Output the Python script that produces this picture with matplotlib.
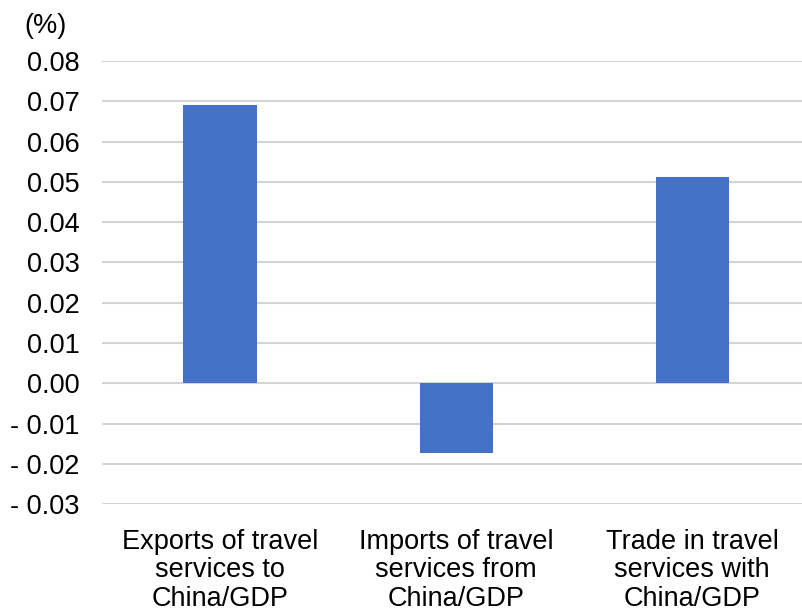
import numpy as np
import matplotlib.pyplot as plt

plt.rcParams['font.family'] = ['Liberation Sans', 'DejaVu Sans']

categories = ['Exports of travel\nservices to\nChina/GDP',
              'Imports of travel\nservices from\nChina/GDP',
              'Trade in travel\nservices with\nChina/GDP']
values = [0.069, -0.0174, 0.0511]
yticks = [-0.03, -0.02, -0.01, 0.00, 0.01, 0.02, 0.03, 0.04, 0.05, 0.06, 0.07, 0.08]


def fmt(v):
    if v < 0:
        return '- {:.2f}'.format(abs(v))
    return '{:.2f}'.format(v)


fig = plt.figure(figsize=(8.03, 6.11), dpi=100)
ax = fig.add_axes([0.127, 0.175, 0.882, 0.725])

x = np.arange(len(categories))
ax.bar(x, values, width=0.31, color='#4472C4', zorder=3)

ax.set_xlim(-0.5, 2.5)
ax.set_ylim(-0.03, 0.08)
ax.set_yticks(yticks)
ax.set_yticklabels([fmt(v) for v in yticks])
ax.set_xticks(x)
ax.set_xticklabels(categories, linespacing=1.12)
ax.tick_params(axis='y', length=0, pad=16, labelsize=19.5)
ax.tick_params(axis='x', length=0, pad=18, labelsize=19.5)
ax.grid(axis='y', color='#d4d4d4', linewidth=1.5, zorder=0)
for s in ax.spines.values():
    s.set_visible(False)

fig.text(0.03, 0.958, '(%)', fontsize=19.5, va='center', ha='left')

fig.savefig('out.png', dpi=100)
